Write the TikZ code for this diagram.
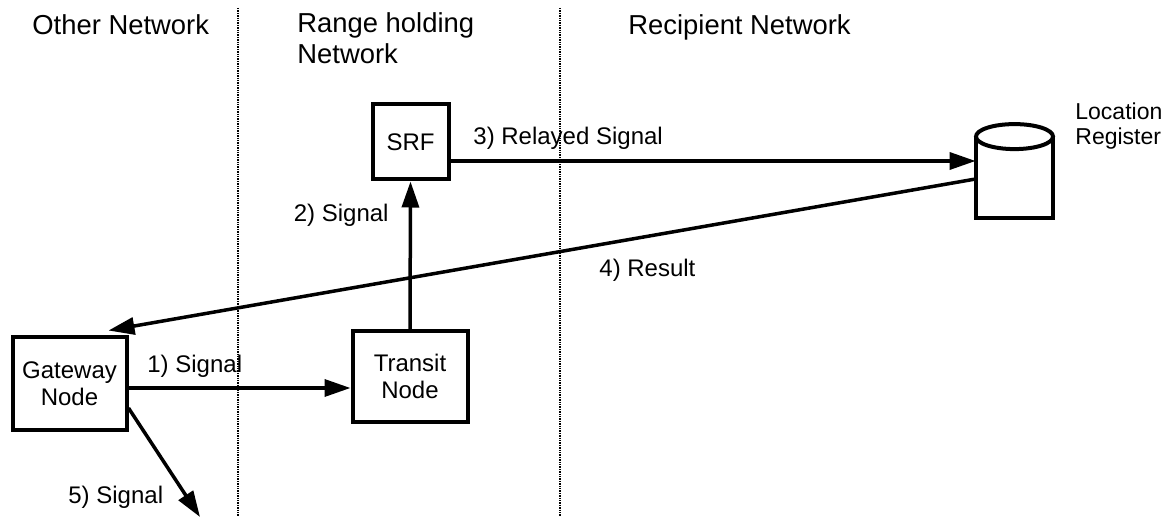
\documentclass[tikz,border=0pt]{standalone}
\usepackage{fontspec}
\setmainfont{Liberation Sans}
\usetikzlibrary{arrows.meta,calc,positioning}

\begin{document}
\begin{tikzpicture}[x=0.5pt,y=-0.5pt,
    box/.style={draw,line width=2pt,inner sep=0pt,align=center,font=\fontsize{12}{13.5}\selectfont},
    hdr/.style={anchor=base west,inner sep=0pt,align=left,font=\fontsize{13.7}{15.5}\selectfont},
    lbl/.style={anchor=base west,inner sep=0pt,font=\fontsize{12}{14}\selectfont},
    sig/.style={line width=1.75pt,-{Triangle[length=13pt,width=8.5pt]}},
    border/.style={line width=1.2pt,dash pattern=on 0.7pt off 0.5pt}]
    \useasboundingbox (0,0) rectangle (1170,517);

    \coordinate (b1top) at (238,8);
    \coordinate (b1bot) at (238,517);
    \coordinate (b2top) at (560,8);
    \coordinate (b2bot) at (560,517);
    \draw[border] (b1top) -- (b1bot);
    \draw[border] (b2top) -- (b2bot);

    \node[hdr] (other) at (32,35) {Other Network};
    \node[hdr] (range) at (297,64) {Range holding\\Network};
    \node[hdr] (recip) at (628,35) {Recipient Network};

    \node[box,minimum width=38pt,minimum height=37.5pt] (srf) at (410.5,142) {SRF};
    \node[box,minimum width=57pt,minimum height=46pt] (gw) at (69.5,383.5) {Gateway\\Node};
    \node[box,minimum width=57.5pt,minimum height=45pt] (tn) at (410,376.5) {Transit\\Node};

    \node[minimum width=38.5pt,minimum height=40.5pt,inner sep=0pt] (lr) at (1014.5,177.5) {};
    \draw[line width=2pt] (lr.north west) -- (lr.south west) -- (lr.south east) -- (lr.north east);
    \draw[line width=2pt,fill=white] (lr.north) ellipse [x radius=19.25pt,y radius=6.25pt];
    \node[anchor=base west,inner sep=0pt,align=left,font=\fontsize{11.5}{12.5}\selectfont] (lrname) at (1075,145) {Location\\Register};

    \draw[sig] (gw.east |- 0,388) -- (tn.west |- 0,388);
    \node[lbl] (l1) at (147,372) {1) Signal};
    \draw[sig] (tn.north) -- (srf.south);
    \node[lbl,anchor=base east] (l2) at (389,222) {2) Signal};
    \draw[sig] (srf.east |- 0,161) -- (lr.west |- 0,161);
    \node[lbl] (l3) at (473,145) {3) Relayed Signal};
    \draw[sig] (lr.west |- 0,179) -- ($(gw.north east)+(-20,-5)$);
    \node[lbl] (l4) at (599,277) {4) Result};
    \coordinate (out) at (200,517);
    \draw[sig] (gw.east |- 0,408) -- (out);
    \node[lbl] (l5) at (68,503) {5) Signal};
\end{tikzpicture}
\end{document}
